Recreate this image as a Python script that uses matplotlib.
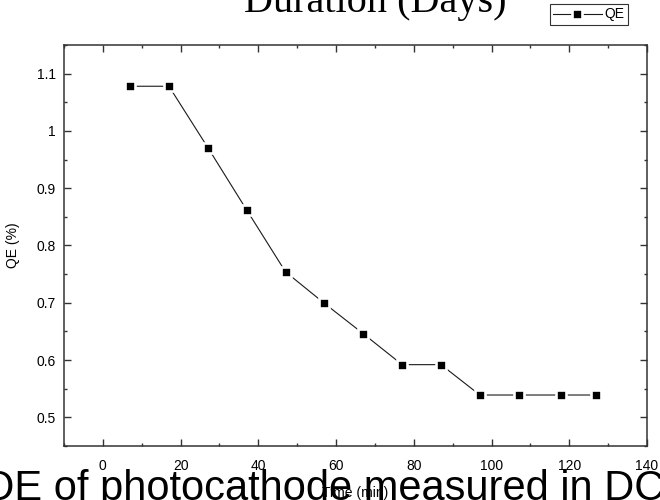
import numpy as np
import matplotlib
matplotlib.use("Agg")
import matplotlib.pyplot as plt
from matplotlib.ticker import MultipleLocator

# --- Data ---
time_min = [7, 17, 27, 37, 47, 57, 67, 77, 87, 97, 107, 118, 127]
qe_pct = [1.078, 1.078, 0.971, 0.862, 0.754, 0.699, 0.646,
          0.592, 0.592, 0.539, 0.539, 0.539, 0.539]

x_ticks = [0, 20, 40, 60, 80, 100, 120, 140]
y_ticks = [0.5, 0.6, 0.7, 0.8, 0.9, 1.0, 1.1]
y_tick_labels = ["0.5", "0.6", "0.7", "0.8", "0.9", "1", "1.1"]

plt.rcParams["font.family"] = ["Liberation Sans", "DejaVu Sans"]

W, H = 660, 500
fig = plt.figure(figsize=(W / 100, H / 100), dpi=100)
# axes frame: x 64..647, y 45..446 (pixels)
ax = fig.add_axes([64 / W, 1 - 446 / H, (647 - 64) / W, (446 - 45) / H])
ax.set_zorder(5)  # keep axis labels above the big cut-off caption

ax.plot(time_min, qe_pct, "-", color="#1a1a1a", lw=0.8,
        marker="s", ms=7.7, mfc="black", mec="white", mew=1.9,
        label="QE")

ax.set_xlim(-10, 140)
ax.set_ylim(0.45, 1.15)
ax.set_xticks(x_ticks)
ax.set_yticks(y_ticks)
ax.set_yticklabels(y_tick_labels)
ax.xaxis.set_minor_locator(MultipleLocator(10))
ax.yaxis.set_minor_locator(MultipleLocator(0.05))

ax.tick_params(which="both", direction="in", top=True, right=True,
               color="#333333", labelsize=10)
ax.tick_params(which="major", length=5, width=1.0)
ax.tick_params(which="minor", length=2.5, width=1.0)
ax.tick_params(axis="x", pad=9)
ax.tick_params(axis="y", pad=6)
for sp in ax.spines.values():
    sp.set_linewidth(1.1)
    sp.set_color("#333333")

ax.set_xlabel("Time (min)", fontsize=10)
ax.set_ylabel("QE (%)", fontsize=10)
ax.xaxis.set_label_coords(0.5, (446 - 486) / (446 - 45))
ax.yaxis.set_label_coords((20 - 64) / (647 - 64), 0.5)

leg = ax.legend(loc="upper right", bbox_to_anchor=(628 / W, 1 - 4 / H),
                bbox_transform=fig.transFigure, fontsize=10, frameon=True,
                fancybox=False, handlelength=3.5, handletextpad=0.2,
                borderpad=0.25, borderaxespad=0)
leg.get_frame().set_edgecolor("black")
leg.get_frame().set_linewidth(0.8)

# cut-off texts around the frame
fig.text(375 / W, 1 - 12 / H, "Duration (Days)", family="Liberation Serif",
         fontsize=29, ha="center", va="baseline")
fig.text(-18 / W, 1 - 469 / H, "QE of photocathode measured in DC gun",
         family="Liberation Sans", fontsize=30, ha="left", va="top")

fig.savefig("out.png", dpi=100)
